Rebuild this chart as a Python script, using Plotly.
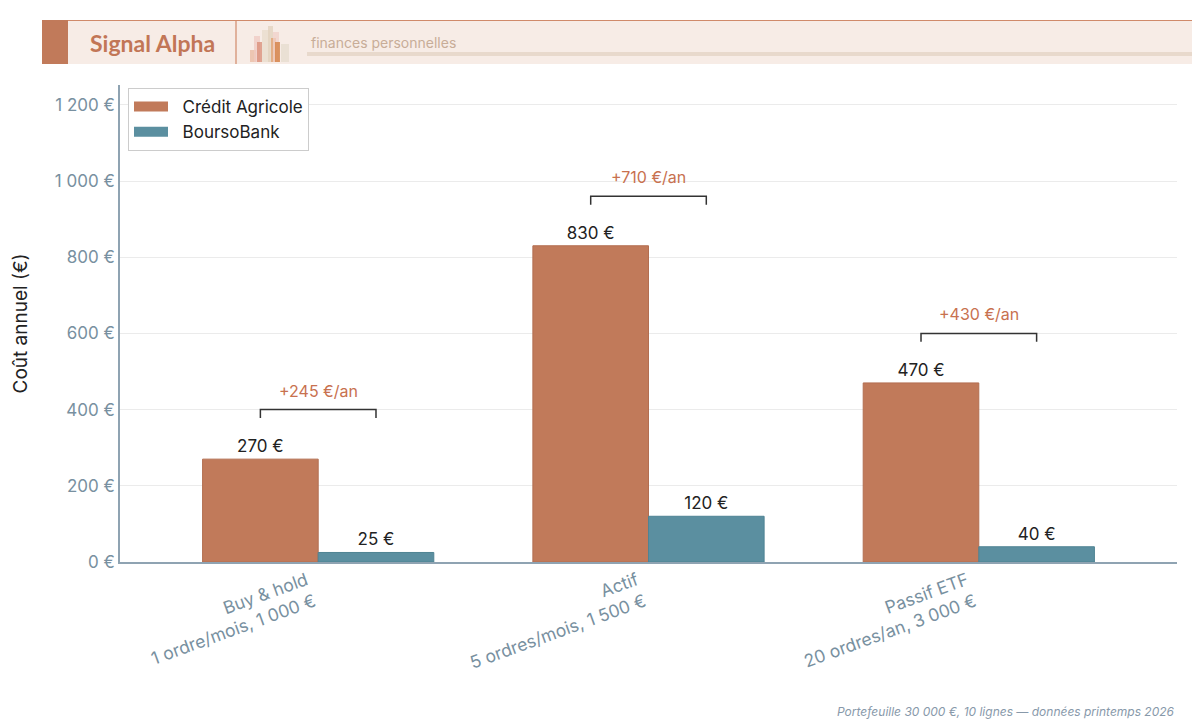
import plotly.graph_objects as go

# data
scenarios = ["Buy & hold<br>1 ordre/mois, 1 000 €",
             "Actif<br>5 ordres/mois, 1 500 €",
             "Passif ETF<br>20 ordres/an, 3 000 €"]
credit_agricole = [270, 830, 470]
boursobank = [25, 120, 40]
y_ticks = [0, 200, 400, 600, 800, 1000, 1200]
y_tick_labels = ["0 €", "200 €", "400 €", "600 €", "800 €", "1 000 €", "1 200 €"]

CA_COLOR = "#c17a5a"
BB_COLOR = "#5b8fa0"
FONT = "Inter"

x_idx = list(range(len(scenarios)))
half = 0.175


def px_x(v):
    # page pixel -> paper x (plot area 120..1177)
    return (v - 120) / 1057


def px_y(v):
    # page pixel -> paper y (plot area 85..562)
    return (562 - v) / 477


fig = go.Figure()
fig.add_trace(go.Bar(
    x=x_idx, y=credit_agricole, name="Crédit Agricole", showlegend=False,
    marker=dict(color=CA_COLOR, line=dict(color="#b36e50", width=1)),
    text=[f"{v} €" for v in credit_agricole], textposition="outside",
    textfont=dict(size=17, color="#222222"), cliponaxis=False))
fig.add_trace(go.Bar(
    x=x_idx, y=boursobank, name="BoursoBank", showlegend=False,
    marker=dict(color=BB_COLOR, line=dict(color="#4f8393", width=1)),
    text=[f"{v} €" for v in boursobank], textposition="outside",
    textfont=dict(size=17, color="#222222"), cliponaxis=False))

# legend entries drawn as wide swatches
for name, color in [("Crédit Agricole", CA_COLOR), ("BoursoBank", BB_COLOR)]:
    fig.add_trace(go.Scatter(x=[None], y=[None], mode="lines", name="\u00a0\u00a0" + name,
                             line=dict(color=color, width=12), hoverinfo="skip"))

# brackets showing yearly difference
for i, (ca, bb) in enumerate(zip(credit_agricole, boursobank)):
    top = ca + 130
    fig.add_trace(go.Scatter(
        x=[i - half, i - half, i + half, i + half],
        y=[top - 22, top, top, top - 22],
        mode="lines", line=dict(color="#333333", width=1.5),
        showlegend=False, hoverinfo="skip"))
    fig.add_annotation(x=i, y=top, text=f"+{ca - bb} €/an", showarrow=False,
                       yanchor="bottom", yshift=7,
                       font=dict(size=16, color="#c8714f", family=FONT))

# header band
header = [
    dict(type="rect", xref="paper", yref="paper", x0=px_x(42), x1=px_x(1210), y0=px_y(64), y1=px_y(20),
         fillcolor="#f7ece6", line=dict(width=0), layer="below"),
    dict(type="line", xref="paper", yref="paper", x0=px_x(42), x1=px_x(1210), y0=px_y(20.5), y1=px_y(20.5),
         line=dict(color="#d08a6a", width=1.2)),
    dict(type="rect", xref="paper", yref="paper", x0=px_x(42), x1=px_x(68), y0=px_y(64), y1=px_y(20),
         fillcolor="#c17a5a", line=dict(width=0)),
    dict(type="line", xref="paper", yref="paper", x0=px_x(236), x1=px_x(236), y0=px_y(64), y1=px_y(20),
         line=dict(color="#d08a6a", width=1.2)),
    dict(type="rect", xref="paper", yref="paper", x0=px_x(307), x1=px_x(1210), y0=px_y(56), y1=px_y(52),
         fillcolor="#e8d9cc", line=dict(width=0)),
]
# small decorative bar logo
logo = [(250, 256, 50, 62, "#e9b9a0"), (254, 260, 36, 62, "#efc9c2"), (257, 262, 42, 62, "#d88b74"),
        (262, 270, 30, 62, "#e8dccb"), (268, 273, 26, 62, "#e2d2bc"), (271, 276, 38, 62, "#e1a070"),
        (273, 279, 32, 62, "#f0d0c8"), (275, 280, 42, 62, "#d27a3a"), (281, 289, 44, 62, "#e6dccd")]
for x0, x1, y0, y1, c in logo:
    header.append(dict(type="rect", xref="paper", yref="paper",
                       x0=px_x(x0), x1=px_x(x1), y0=px_y(y1), y1=px_y(y0),
                       fillcolor=c, opacity=0.75, line=dict(width=0)))

fig.add_annotation(xref="paper", yref="paper", x=px_x(152), y=px_y(43),
                   text="<b>Signal Alpha</b>", showarrow=False, xanchor="center", yanchor="middle",
                   font=dict(size=23, color="#c27656", family="Lato"))
fig.add_annotation(xref="paper", yref="paper", x=px_x(309), y=px_y(42),
                   text="finances personnelles", showarrow=False, xanchor="left", yanchor="middle",
                   font=dict(size=14, color="#c8ad98", family=FONT))
fig.add_annotation(xref="paper", yref="paper", x=1.0, y=px_y(711),
                   text="<i>Portefeuille 30 000 €, 10 lignes — données printemps 2026</i>",
                   showarrow=False, xanchor="right", yanchor="middle",
                   font=dict(size=12, color="#8899aa", family=FONT))

# the page body keeps an 8px margin, so the canvas is shifted by 8px
fig.update_layout(
    width=1192, height=713,
    margin=dict(l=112, r=23, t=77, b=159),
    plot_bgcolor="white", paper_bgcolor="white",
    font=dict(family=FONT, size=16, color="#222222"),
    barmode="group", bargap=0.3, bargroupgap=0,
    shapes=header,
    legend=dict(x=px_x(128), y=px_y(88), xanchor="left", yanchor="top",
                bgcolor="white", bordercolor="#cccccc", borderwidth=1,
                itemwidth=34, font=dict(size=17, color="#222222")),
    xaxis=dict(range=[-0.6, 2.6], tickvals=x_idx, ticktext=scenarios, tickangle=-20,
               tickfont=dict(size=17.5, color="#7890a0"), showgrid=False, ticklabelshift=-12,
               showline=True, linecolor="#8fa3b2", linewidth=1.5, ticks="", zeroline=False),
    yaxis=dict(range=[0, 1252], tickvals=y_ticks, ticktext=y_tick_labels,
               tickfont=dict(size=17, color="#7890a0"), gridcolor="#ebebeb",
               showline=True, linecolor="#8fa3b2", linewidth=1.5, zeroline=False,
               title=dict(text="Coût annuel (€)", font=dict(size=19, color="#222222"), standoff=22)),
)

fig.write_html("out.html")
